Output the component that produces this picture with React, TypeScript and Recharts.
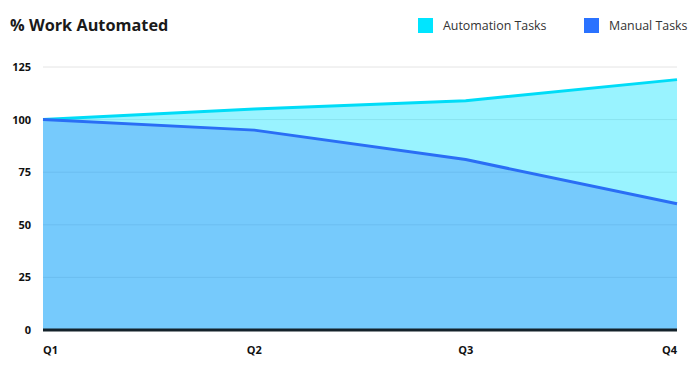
import React from "react";
import { AreaChart, Area, XAxis, YAxis, CartesianGrid } from "recharts";

const quarters = ["Q1", "Q2", "Q3", "Q4"];
const automationTasks = [100, 105, 109, 119];
const manualTasks = [100, 95, 81, 60];
const yTicks = [0, 25, 50, 75, 100, 125];

const data = quarters.map((q, i) => ({
  quarter: q,
  automation: automationTasks[i],
  manual: manualTasks[i],
}));

const FONT = "'Open Sans', 'DejaVu Sans', sans-serif";

const XTick = (props: any) => {
  const { x, y, payload, index } = props;
  const anchor = index === 0 ? "start" : index === quarters.length - 1 ? "end" : "middle";
  return (
    <text x={x} y={y + 16} textAnchor={anchor} fontSize={11} fontWeight={700} fill="#111" fontFamily={FONT}>
      {payload.value}
    </text>
  );
};

const YTick = (props: any) => {
  const { x, y, payload } = props;
  return (
    <text x={x} y={y + 4} textAnchor="end" fontSize={11} fontWeight={700} fill="#111" fontFamily={FONT}>
      {payload.value}
    </text>
  );
};

const LegendItem = ({ color, label, left }: { color: string; label: string; left: number }) => (
  <div style={{ position: "absolute", left, top: 17, display: "flex", alignItems: "center" }}>
    <div style={{ width: 15, height: 15, background: color, marginRight: 10 }} />
    <span style={{ fontSize: 12.4, color: "#333", fontFamily: FONT }}>{label}</span>
  </div>
);

export default function App() {
  return (
    <div style={{ position: "absolute", left: 0, top: 0, width: 699, height: 372, background: "#fff" }}>
      <div
        style={{
          position: "absolute",
          left: 10,
          top: 14,
          fontSize: 16.3,
          fontWeight: 700,
          color: "#1a1a1a",
          fontFamily: FONT,
        }}
      >
        % Work Automated
      </div>
      <LegendItem color="#00e5ff" label="Automation Tasks" left={418} />
      <LegendItem color="#2a72ff" label="Manual Tasks" left={584} />
      <AreaChart
        width={699}
        height={372}
        data={data}
        margin={{ top: 67, right: 22, left: 0, bottom: 0 }}
      >
        <CartesianGrid vertical={false} stroke="#e4e4e4" />
        <XAxis
          dataKey="quarter"
          height={42}
          tickLine={false}
          axisLine={{ stroke: "#14222b", strokeWidth: 3 }}
          tick={<XTick />}
          interval={0}
        />
        <YAxis
          width={43}
          domain={[0, 125]}
          ticks={yTicks}
          tickLine={false}
          axisLine={false}
          tick={<YTick />}
          tickMargin={0}
          tickSize={12}
        />
        <Area
          type="linear"
          dataKey="automation"
          stroke="#00dcf7"
          strokeWidth={3}
          fill="#00e1ff"
          fillOpacity={0.4}
          dot={false}
          activeDot={false}
          isAnimationActive={false}
        />
        <Area
          type="linear"
          dataKey="manual"
          stroke="#2a6ef5"
          strokeWidth={3}
          fill="#2a6ef5"
          fillOpacity={0.31}
          dot={false}
          activeDot={false}
          isAnimationActive={false}
        />
      </AreaChart>
    </div>
  );
}
